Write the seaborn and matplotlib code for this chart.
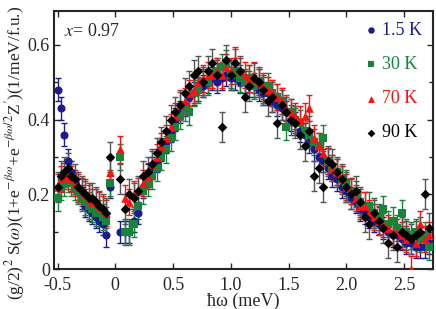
import matplotlib
matplotlib.use("Agg")
import matplotlib.pyplot as plt
from matplotlib.ticker import FixedLocator, FixedFormatter, MultipleLocator
import numpy as np
import pandas as pd
import seaborn as sns

# energy grid (meV): below and above the elastic line
e_neg = [-0.50, -0.47, -0.44, -0.41, -0.38, -0.35, -0.32, -0.29, -0.26, -0.23,
         -0.20, -0.17, -0.14, -0.11, -0.08, -0.05]
e_pos = [0.04, 0.08, 0.12, 0.16, 0.20, 0.24, 0.28, 0.32, 0.36, 0.40,
         0.44, 0.48, 0.52, 0.56, 0.60, 0.64, 0.68, 0.72, 0.76, 0.80,
         0.84, 0.88, 0.92, 0.96, 1.00, 1.04, 1.08, 1.12, 1.16, 1.20,
         1.24, 1.28, 1.32, 1.36, 1.40, 1.44, 1.48, 1.52, 1.56, 1.60,
         1.64, 1.68, 1.72, 1.76, 1.80, 1.84, 1.88, 1.92, 1.96, 2.00,
         2.04, 2.08, 2.12, 2.16, 2.20, 2.24, 2.28, 2.32, 2.36, 2.40,
         2.44, 2.48, 2.52, 2.56, 2.60, 2.64, 2.68, 2.72]

# scaled S(w) for each temperature
s_15K = [0.48, 0.43, 0.36, 0.29, 0.26, 0.23, 0.21, 0.19, 0.17, 0.16, 0.15, 0.14, 0.13, 0.12, 0.09, 0.22,
         0.10, 0.10, 0.10, 0.13, 0.15, 0.22, 0.25, 0.27, 0.29, 0.32, 0.34, 0.37, 0.40, 0.42, 0.44, 0.46,
         0.47, 0.48, 0.49, 0.50, 0.51, 0.50, 0.51, 0.52, 0.51, 0.51, 0.50, 0.50, 0.49, 0.49, 0.48, 0.47,
         0.47, 0.45, 0.44, 0.43, 0.42, 0.40, 0.39, 0.37, 0.36, 0.34, 0.32, 0.30, 0.29, 0.27, 0.25, 0.24,
         0.22, 0.21, 0.19, 0.18, 0.16, 0.15, 0.14, 0.13, 0.12, 0.11, 0.10, 0.09, 0.09, 0.08, 0.07, 0.07,
         0.06, 0.06, 0.06, 0.07]
s_30K = [0.19, 0.22, 0.23, 0.24, 0.23, 0.22, 0.21, 0.19, 0.18, 0.17, 0.16, 0.15, 0.15, 0.14, 0.13, 0.23,
         0.30, 0.10, 0.10, 0.12, 0.17, 0.21, 0.23, 0.25, 0.27, 0.30, 0.32, 0.35, 0.38, 0.41, 0.43, 0.42,
         0.47, 0.48, 0.50, 0.50, 0.52, 0.53, 0.54, 0.55, 0.52, 0.53, 0.51, 0.50, 0.51, 0.49, 0.50, 0.48,
         0.49, 0.47, 0.46, 0.45, 0.38, 0.42, 0.40, 0.39, 0.37, 0.36, 0.34, 0.33, 0.35, 0.29, 0.27, 0.26,
         0.24, 0.23, 0.21, 0.20, 0.18, 0.17, 0.17, 0.15, 0.14, 0.16, 0.12, 0.13, 0.11, 0.15, 0.10, 0.09,
         0.10, 0.08, 0.09, 0.06]
s_70K = [0.22, 0.24, 0.25, 0.25, 0.24, 0.23, 0.22, 0.21, 0.20, 0.19, 0.18, 0.18, 0.17, 0.16, 0.15, 0.26,
         0.32, 0.19, 0.18, 0.20, 0.21, 0.23, 0.25, 0.28, 0.30, 0.33, 0.35, 0.38, 0.41, 0.44, 0.45, 0.47,
         0.48, 0.50, 0.51, 0.52, 0.52, 0.53, 0.52, 0.54, 0.53, 0.56, 0.53, 0.52, 0.51, 0.52, 0.50, 0.49,
         0.48, 0.47, 0.46, 0.45, 0.43, 0.42, 0.41, 0.40, 0.41, 0.43, 0.35, 0.33, 0.31, 0.29, 0.27, 0.26,
         0.24, 0.22, 0.21, 0.19, 0.17, 0.17, 0.15, 0.14, 0.13, 0.12, 0.11, 0.10, 0.10, 0.09, 0.08, 0.00,
         0.07, 0.12, 0.08, 0.09]
s_90K = [0.22, 0.25, 0.26, 0.27, 0.25, 0.24, 0.22, 0.21, 0.20, 0.19, 0.19, 0.18, 0.17, 0.16, 0.15, 0.30,
         0.24, 0.16, 0.20, 0.19, 0.21, 0.25, 0.26, 0.28, 0.31, 0.34, 0.37, 0.40, 0.42, 0.44, 0.47, 0.49,
         0.52, 0.53, 0.50, 0.53, 0.55, 0.52, 0.38, 0.56, 0.52, 0.55, 0.53, 0.46, 0.49, 0.51, 0.50, 0.48,
         0.45, 0.46, 0.39, 0.44, 0.42, 0.40, 0.39, 0.36, 0.33, 0.37, 0.25, 0.27, 0.22, 0.29, 0.28, 0.26,
         0.24, 0.22, 0.20, 0.21, 0.18, 0.14, 0.12, 0.15, 0.13, 0.11, 0.07, 0.09, 0.06, 0.10, 0.09, 0.08,
         0.09, 0.10, 0.20, 0.11]

temps = ["1.5 K", "30 K", "70 K", "90 K"]
errs = [0.03, 0.035, 0.035, 0.04]
colors = ["#1c1c8f", "#17843a", "#ff1010", "#000000"]
bar_colors = ["#1c1c8f", "#17843a", "#ff1010", "#555555"]
markers = ["o", "s", "^", "D"]
sizes = [34, 30, 38, 24]

x_ticks = [-0.5, 0, 0.5, 1.0, 1.5, 2.0, 2.5]
x_labels = ["-0.5", "0", "0.5", "1.0", "1.5", "2.0", "2.5"]
y_ticks = [0, 0.2, 0.4, 0.6]
y_labels = ["0", "0.2", "0.4", "0.6"]

energy = e_neg + e_pos
df = pd.DataFrame({
    "E": energy * 4,
    "S": s_15K + s_30K + s_70K + s_90K,
    "T": [t for t in temps for _ in energy],
})

sns.set_style("ticks")
plt.rcParams["font.family"] = ["Liberation Serif", "DejaVu Serif"]
plt.rcParams["mathtext.fontset"] = "stix"

fig = plt.figure(figsize=(4.36, 3.09), dpi=100)
ax = fig.add_axes([0.124, 0.129, 0.869, 0.835])

for t, err, c, bc, m, sz in zip(temps, errs, colors, bar_colors, markers, sizes):
    d = df[df["T"] == t]
    ax.errorbar(d["E"], d["S"], yerr=err, fmt="none", ecolor=bc,
                elinewidth=1.0, capsize=2.5, capthick=1.0, zorder=2)
    sns.scatterplot(data=d, x="E", y="S", color=c, marker=m, s=sz,
                    edgecolor=c, linewidth=0, label=t, ax=ax, zorder=3)

ax.set_xlim(-0.53, 2.75)
ax.set_ylim(0, 0.69)
ax.xaxis.set_major_locator(FixedLocator(x_ticks))
ax.xaxis.set_major_formatter(FixedFormatter(x_labels))
ax.yaxis.set_major_locator(FixedLocator(y_ticks))
ax.yaxis.set_major_formatter(FixedFormatter(y_labels))
ax.yaxis.set_minor_locator(MultipleLocator(0.1))
ax.tick_params(which="both", direction="in", top=True, right=True,
               labelsize=13, width=1.0, length=4)
ax.tick_params(axis="y", pad=3)
ax.tick_params(axis="x", pad=6)
ax.tick_params(which="minor", length=3)
for sp in ax.spines.values():
    sp.set_linewidth(1.5)

ax.set_xlabel("ħω (meV)", fontsize=13, labelpad=-1)
ax.set_ylabel(r"(g/2)$^2$ S($\omega$)(1+e$^{-\beta\omega}$+e$^{-\beta\omega/2}$Z$'$)(1/meV/f.u.)",
              fontsize=12.5)
ax.yaxis.set_label_coords(-0.072, 0.45)
ax.text(0.025, 0.955, r"$x$= 0.97", transform=ax.transAxes, fontsize=13,
        ha="left", va="top")

leg = ax.legend(loc="upper right", frameon=False, fontsize=13, markerscale=0.8,
                handletextpad=0.1, labelspacing=0.95, borderaxespad=0.2,
                handlelength=1.0, labelcolor="markerfacecolor")

fig.savefig("out.png", dpi=100)
